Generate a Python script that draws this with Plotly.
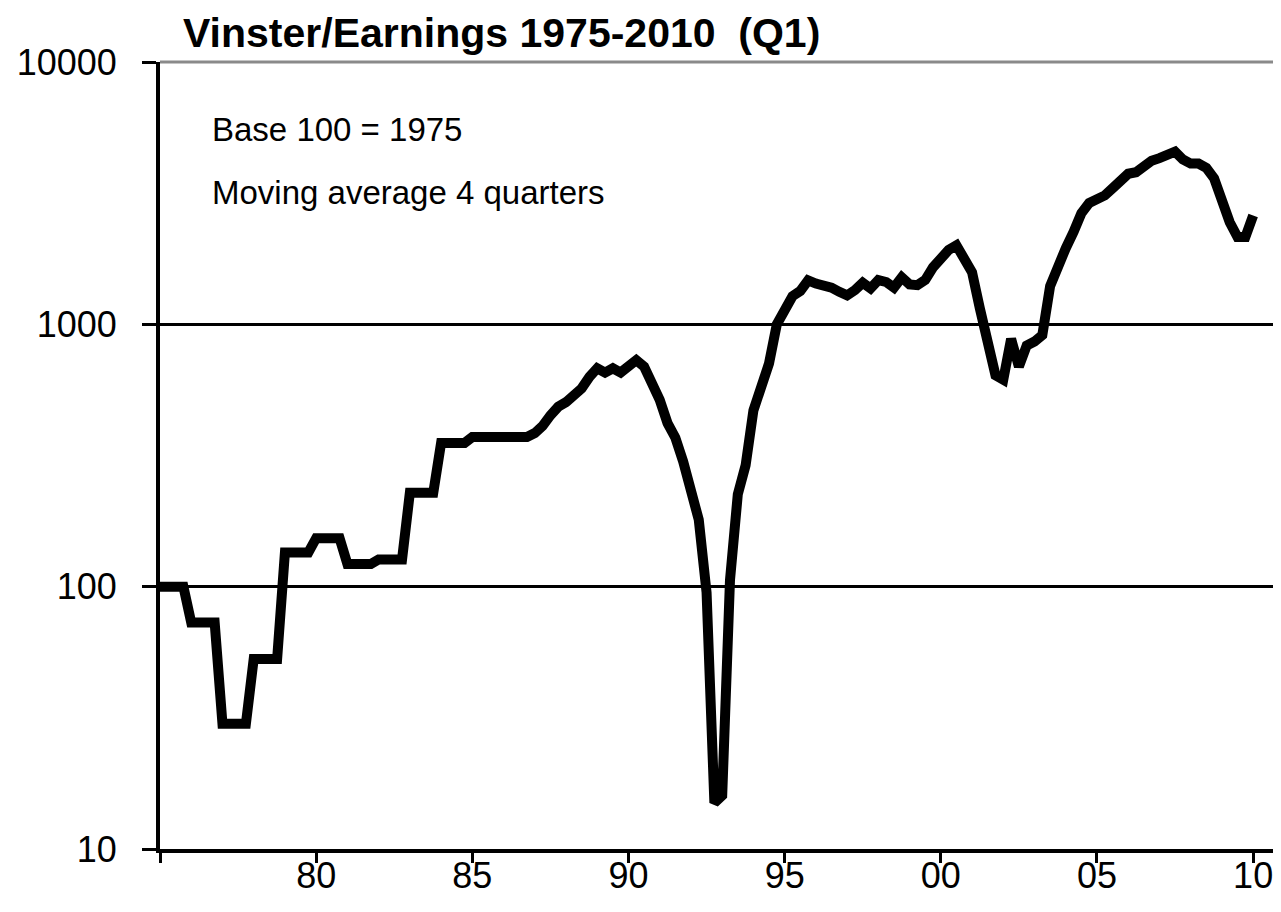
import plotly.graph_objects as go

# ---- data (quarterly, 1975Q1 .. 2010Q1), index base 100 = 1975, 4-quarter moving average
start_year = 1975
earnings_index = [
    100, 100, 100, 100,          # 1975
    73, 73, 73, 73,              # 1976
    30, 30, 30, 30,              # 1977
    53, 53, 53, 53,              # 1978
    135, 135, 135, 135,          # 1979
    153, 153, 153, 153,          # 1980
    122, 122, 122, 122,          # 1981
    127, 127, 127, 127,          # 1982
    228, 228, 228, 228,          # 1983
    353, 353, 353, 353,          # 1984
    372, 372, 372, 372,          # 1985
    372, 372, 372, 372,          # 1986
    385, 410, 450, 485,          # 1987
    505, 540, 570, 630,          # 1988
    680, 655, 680, 655,          # 1989
    700, 730, 690, 600,          # 1990
    515, 420, 370, 300,          # 1991
    240, 180, 95, 15,            # 1992
    16, 106, 225, 290,           # 1993
    470, 600, 710, 1000,         # 1994
    1130, 1280, 1340, 1470,      # 1995
    1430, 1420, 1380, 1330,      # 1996
    1290, 1350, 1440, 1370,      # 1997
    1475, 1450, 1380, 1510,      # 1998
    1420, 1410, 1475, 1650,      # 1999
    1780, 1920, 2000, 1800,      # 2000
    1580, 1150, 880, 640,        # 2001
    615, 880, 690, 830,          # 2002
    860, 910, 1400, 1680,        # 2003
    1950, 2250, 2650, 2900,      # 2004
    3000, 3100, 3300, 3500,      # 2005
    3750, 3800, 4050, 4200,      # 2006
    4300, 4400, 4550, 4250,      # 2007
    4100, 4100, 3950, 3600,      # 2008
    2950, 2450, 2150, 2150,      # 2009
    2600,                        # 2010Q1
]
quarter_x = [start_year + i / 4 for i in range(len(earnings_index))]

x_tick_vals = [1975, 1980, 1985, 1990, 1995, 2000, 2005, 2010]
x_tick_text = ["", "80", "85", "90", "95", "00", "05", "10"]
y_tick_vals = [10, 100, 1000, 10000]
y_tick_text = ["10", "100", "1000", "10000"]

title_text = "Vinster/Earnings 1975-2010 \u00a0(Q1)"
note_lines = ["Base 100 = 1975", "Moving average 4 quarters"]

FONT = "Liberation Sans, Arial, sans-serif"

fig = go.Figure(
    go.Scatter(
        x=quarter_x,
        y=earnings_index,
        mode="lines",
        line=dict(color="black", width=10),
        hoverinfo="skip",
    )
)

# page body has an 8px margin, so the figure is sized/placed to compensate
fig.update_layout(
    width=1273,
    height=904,
    margin=dict(l=152, r=1, t=54, b=63, autoexpand=False),
    plot_bgcolor="white",
    paper_bgcolor="white",
    showlegend=False,
    font=dict(family=FONT, color="black"),
)

fig.update_xaxes(
    range=[1975, 2010.86],
    tickvals=x_tick_vals,
    ticktext=x_tick_text,
    ticks="outside",
    ticklen=10,
    tickwidth=3,
    tickcolor="black",
    showline=True,
    linecolor="black",
    linewidth=4,
    showgrid=False,
    zeroline=False,
    automargin=False,
    tickfont=dict(family=FONT, size=36, color="black"),
    ticklabelstandoff=-18,
)

fig.update_yaxes(
    type="log",
    range=[1, 4],
    tickvals=y_tick_vals,
    ticktext=y_tick_text,
    ticks="outside",
    ticklen=14,
    tickwidth=3,
    tickcolor="black",
    showline=True,
    linecolor="black",
    linewidth=4,
    showgrid=True,
    gridcolor="black",
    gridwidth=2.5,
    zeroline=False,
    automargin=False,
    tickfont=dict(family=FONT, size=36, color="black"),
    ticklabelstandoff=18,
)

# top and right frame (thin grey)
fig.add_shape(type="line", xref="paper", yref="paper", x0=0, x1=1, y0=1, y1=1,
              line=dict(color="#8a8a8a", width=3), layer="above")
fig.add_shape(type="line", xref="paper", yref="paper", x0=1, x1=1, y0=0, y1=1,
              line=dict(color="#9a9a9a", width=2), layer="above")

# title
fig.add_annotation(text="<b>" + title_text + "</b>", xref="paper", yref="paper",
                   x=(181 - 160) / 1120, y=(849 - 33) / 787,
                   xanchor="left", yanchor="middle", showarrow=False,
                   font=dict(family=FONT, size=41, color="black"))

# notes
note_y_px = [129, 193]
for txt, ypx in zip(note_lines, note_y_px):
    fig.add_annotation(text=txt, xref="paper", yref="paper",
                       x=(210 - 160) / 1120, y=(849 - ypx) / 787,
                       xanchor="left", yanchor="middle", showarrow=False,
                       font=dict(family=FONT, size=33, color="black"))

fig.write_html("out.html")
